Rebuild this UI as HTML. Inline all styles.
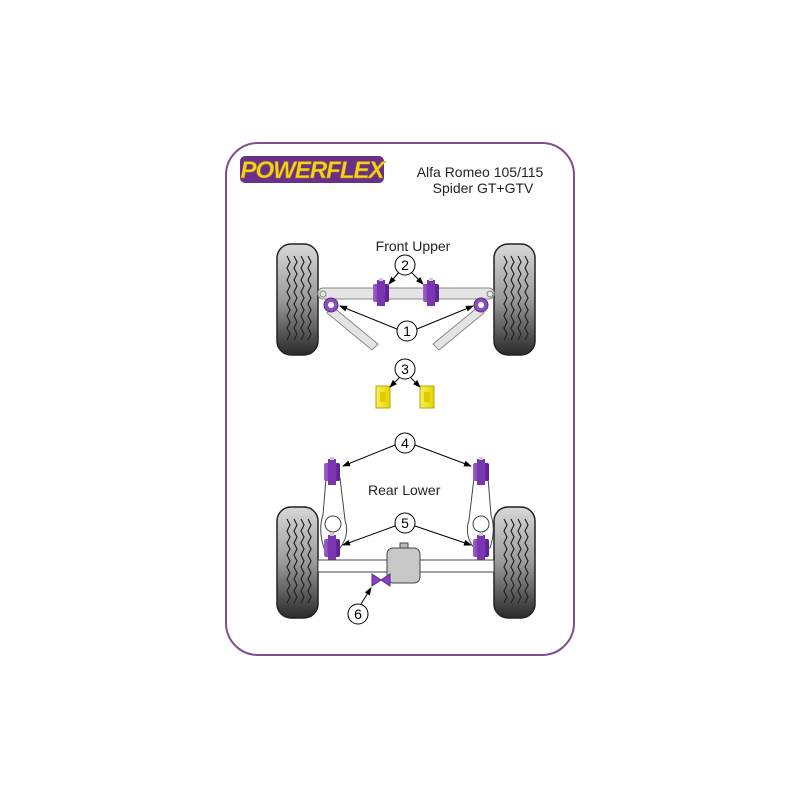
<!DOCTYPE html>
<html><head><style>body{margin:0;background:#fff}svg{display:block}</style></head><body>
<svg width="800" height="800" viewBox="0 0 800 800" xmlns="http://www.w3.org/2000/svg" font-family="Liberation Sans, sans-serif">
<defs>
<linearGradient id="tyre" x1="0" y1="0" x2="0" y2="1"><stop offset="0" stop-color="#d8d8d8"/><stop offset="0.5" stop-color="#9a9a9a"/><stop offset="1" stop-color="#2a2a2a"/></linearGradient>
<linearGradient id="pur" x1="0" y1="0" x2="1" y2="0"><stop offset="0" stop-color="#9a65c8"/><stop offset="0.5" stop-color="#7a2fb5"/><stop offset="1" stop-color="#5a1f8a"/></linearGradient>
<linearGradient id="yel" x1="0" y1="0" x2="1" y2="0"><stop offset="0" stop-color="#f6f060"/><stop offset="1" stop-color="#e6d400"/></linearGradient>
<marker id="ar" markerWidth="8" markerHeight="8" refX="7" refY="4" orient="auto"><path d="M0,1 L8,4 L0,7z" fill="#000"/></marker>
<g id="tyreG"><rect x="0" y="0" width="41" height="111" rx="14" fill="url(#tyre)" stroke="#222" stroke-width="1.5"/>
<g fill="none" stroke="#222" stroke-width="1.2"><path d="M10,12 l3,6 l-3,6 l3,6 l-3,6 l3,6 l-3,6 l3,6 l-3,6 l3,6 l-3,6 l3,6 l-3,6 l3,6 l-3,6"/><path d="M17,12 l3,6 l-3,6 l3,6 l-3,6 l3,6 l-3,6 l3,6 l-3,6 l3,6 l-3,6 l3,6 l-3,6 l3,6 l-3,6"/><path d="M24,12 l3,6 l-3,6 l3,6 l-3,6 l3,6 l-3,6 l3,6 l-3,6 l3,6 l-3,6 l3,6 l-3,6 l3,6 l-3,6"/><path d="M31,12 l3,6 l-3,6 l3,6 l-3,6 l3,6 l-3,6 l3,6 l-3,6 l3,6 l-3,6 l3,6 l-3,6 l3,6 l-3,6"/></g></g>
<g id="bush"><rect x="-8" y="-9" width="16" height="18" rx="2" fill="url(#pur)"/><rect x="-4" y="-13" width="8" height="26" fill="#7a35b0"/><rect x="-2" y="-15" width="4" height="3" fill="#ccc"/></g>
</defs>
<rect x="226" y="143" width="348" height="512" rx="32" fill="#fff" stroke="#7c4f8e" stroke-width="2"/>
<rect x="240" y="156" width="144" height="27" rx="5" fill="#6a2f8a"/>
<text x="312" y="178" text-anchor="middle" font-size="24" font-weight="bold" font-style="italic" fill="#f2d21a" stroke="#b08800" stroke-width="0.5" letter-spacing="-1">POWERFLEX</text>
<text x="480" y="177" text-anchor="middle" font-size="14" fill="#222">Alfa Romeo 105/115</text>
<text x="483" y="193" text-anchor="middle" font-size="14" fill="#222">Spider GT+GTV</text>
<text x="413" y="251" text-anchor="middle" font-size="14" fill="#222">Front Upper</text>
<use href="#tyreG" x="277" y="244"/><use href="#tyreG" x="494" y="244"/>
<use href="#tyreG" x="277" y="507"/><use href="#tyreG" x="494" y="507"/>
<rect x="318" y="288" width="176" height="11" rx="5" fill="#e4e4e4" stroke="#888"/>
<circle cx="323" cy="294" r="3" fill="none" stroke="#888"/><circle cx="490" cy="294" r="3" fill="none" stroke="#888"/>
<path d="M333,307 L378,344 L372,350 L327,313z" fill="#e4e4e4" stroke="#888"/>
<path d="M478,307 L433,344 L439,350 L484,313z" fill="#e4e4e4" stroke="#888"/>
<circle cx="331" cy="305" r="7" fill="#8a4fc0" stroke="#5a2a80"/><circle cx="331" cy="305" r="3" fill="#fff"/>
<circle cx="481" cy="305" r="7" fill="#8a4fc0" stroke="#5a2a80"/><circle cx="481" cy="305" r="3" fill="#fff"/>
<use href="#bush" x="381" y="293"/><use href="#bush" x="431" y="293"/>
<g><rect x="376" y="386" width="14" height="22" fill="url(#yel)" stroke="#bba600"/><rect x="380" y="392" width="6" height="10" fill="#e0cc00"/></g>
<g><rect x="420" y="386" width="14" height="22" fill="url(#yel)" stroke="#bba600"/><rect x="424" y="392" width="6" height="10" fill="#e0cc00"/></g>
<path d="M326,478 L340,478 L345,520 Q350,535 340,548 L324,548 Q318,530 323,515z" fill="#fff" stroke="#444"/>
<circle cx="333" cy="524" r="8" fill="#fff" stroke="#444"/>
<path d="M474,478 L488,478 L491,515 Q496,530 490,548 L474,548 Q464,535 469,520z" fill="#fff" stroke="#444"/>
<circle cx="481" cy="524" r="8" fill="#fff" stroke="#444"/>
<use href="#bush" x="332" y="472"/><use href="#bush" x="481" y="472"/>
<use href="#bush" x="332" y="548"/><use href="#bush" x="481" y="548"/>
<rect x="318" y="560" width="176" height="12" fill="#fff" stroke="#444"/>
<rect x="400" y="543" width="8" height="6" fill="#bbb" stroke="#444"/>
<rect x="387" y="548" width="33" height="35" rx="6" fill="#c8c8c8" stroke="#444"/>
<path d="M372,574 L381,580 L372,586z M390,574 L381,580 L390,586z" fill="#8a3fc8" stroke="#5a2a80"/>
<text x="368" y="495" font-size="14" fill="#222">Rear Lower</text>
<g stroke="#000" stroke-width="1" fill="none" marker-end="url(#ar)">
<line x1="399" y1="272" x2="389" y2="284"/><line x1="411" y1="272" x2="423" y2="284"/>
<line x1="397" y1="329" x2="340" y2="306"/><line x1="417" y1="329" x2="473" y2="306"/>
<line x1="400" y1="377" x2="390" y2="387"/><line x1="410" y1="377" x2="420" y2="387"/>
<line x1="395" y1="445" x2="343" y2="466"/><line x1="415" y1="445" x2="471" y2="466"/>
<line x1="395" y1="526" x2="343" y2="545"/><line x1="415" y1="526" x2="471" y2="545"/>
<line x1="361" y1="604" x2="371" y2="588"/>
</g>
<g fill="#fff" stroke="#000" stroke-width="1">
<circle cx="405" cy="265" r="10"/><circle cx="407" cy="331" r="10"/><circle cx="405" cy="369" r="10"/>
<circle cx="405" cy="443" r="10"/><circle cx="405" cy="523" r="10"/><circle cx="358" cy="614" r="10"/>
</g>
<g font-size="14" text-anchor="middle" fill="#000">
<text x="405" y="270">2</text><text x="407" y="336">1</text><text x="405" y="374">3</text>
<text x="405" y="448">4</text><text x="405" y="528">5</text><text x="358" y="619">6</text>
</g>
</svg>
</body></html>
